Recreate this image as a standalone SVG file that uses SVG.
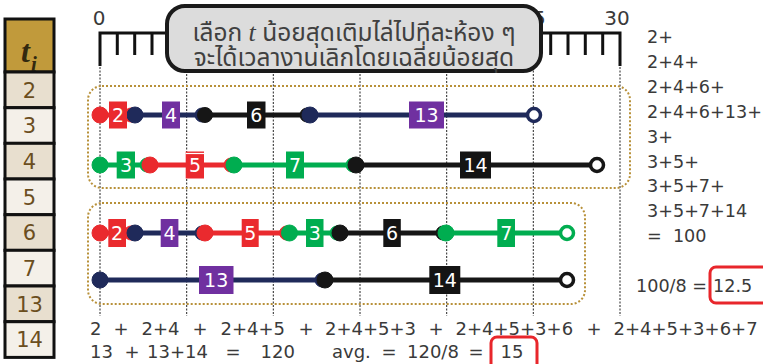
<svg xmlns="http://www.w3.org/2000/svg" width="763" height="364" viewBox="0 0 763 364">
<style>
.num{font-family:"DejaVu Sans",sans-serif;font-size:18px;fill:#3a3a3a}
.rc{font-size:17.6px}
.big{font-size:20px;text-anchor:middle}
.tab{font-family:"DejaVu Sans",sans-serif;font-size:21px;fill:#6b4e1e;text-anchor:middle}
.lab{font-family:"DejaVu Sans",sans-serif;font-size:19px;fill:#ffffff;text-anchor:middle}
.th{font-family:"Noto Sans Thai","Noto Sans","DejaVu Sans",sans-serif;font-size:24.5px;fill:#404040;text-anchor:middle}
.grid{stroke:#222;stroke-width:1;stroke-dasharray:2,1.5;fill:none}
.grp{fill:none;stroke:#b8913a;stroke-width:2;stroke-dasharray:2,2}
.seg{stroke-width:5;fill:none}
.red{stroke:#ea2a2e;fill:#ea2a2e}
.nav{stroke:#1f2a5a;fill:#1f2a5a}
.blk{stroke:#161616;fill:#161616}
.grn{stroke:#00ad50;fill:#00ad50}
.open{fill:#fff;stroke-width:3.5}
.bred{fill:#ea2a2e}.bpur{fill:#7030a0}.bblk{fill:#141414}.bgrn{fill:#00ad50}
.tick{stroke:#111;stroke-width:3;fill:none}
.hl{fill:none;stroke:#e8262b;stroke-width:3}
.cell{stroke:#111;stroke-width:3}
.c1{fill:#e8dfcf}.c2{fill:#f4f0e9}
</style>
<rect width="763" height="364" fill="#ffffff"/>
<g id="table">
<rect x="5" y="19" width="49" height="53" fill="#c19a3b" class="cell"/>
<text x="21" y="62" font-family="Liberation Serif,serif" font-weight="bold" font-style="italic" font-size="32" fill="#33290f">t</text>
<text x="31" y="71" font-family="Liberation Serif,serif" font-weight="bold" font-style="italic" font-size="21" fill="#33290f">i</text>
<rect x="5" y="72" width="49" height="35.7" class="cell c1"/>
<rect x="5" y="107.7" width="49" height="35.7" class="cell c2"/>
<rect x="5" y="143.3" width="49" height="35.7" class="cell c1"/>
<rect x="5" y="179" width="49" height="35.7" class="cell c2"/>
<rect x="5" y="214.7" width="49" height="35.7" class="cell c1"/>
<rect x="5" y="250.3" width="49" height="35.7" class="cell c2"/>
<rect x="5" y="286" width="49" height="35.7" class="cell c1"/>
<rect x="5" y="321.7" width="49" height="35.7" class="cell c2"/>
<text class="tab" x="29.5" y="97.5">2</text>
<text class="tab" x="29.5" y="133.2">3</text>
<text class="tab" x="29.5" y="168.9">4</text>
<text class="tab" x="29.5" y="204.5">5</text>
<text class="tab" x="29.5" y="240.2">6</text>
<text class="tab" x="29.5" y="275.9">7</text>
<text class="tab" x="29.5" y="311.5">13</text>
<text class="tab" x="29.5" y="347.2">14</text>
</g>
<g id="grid">
<line class="grid" x1="100" y1="67" x2="100" y2="316"/>
<line class="grid" x1="186.7" y1="67" x2="186.7" y2="316"/>
<line class="grid" x1="273.3" y1="67" x2="273.3" y2="316"/>
<line class="grid" x1="360" y1="67" x2="360" y2="316"/>
<line class="grid" x1="446.7" y1="67" x2="446.7" y2="316"/>
<line class="grid" x1="533.3" y1="67" x2="533.3" y2="316"/>
<line class="grid" x1="620" y1="67" x2="620" y2="316"/>
</g>
<g id="ruler">
<path class="tick" d="M100,66 V33 H620 V66"/>
<path class="tick" d="M117.3,33V55 M134.7,33V55 M152,33V55 M169.3,33V55 M186.7,33V66 M550.7,33V55 M568,33V55 M585.3,33V55 M602.7,33V55"/>
<text class="num big" x="99" y="25">0</text>
<text class="num big" x="533" y="25">25</text>
<text class="num big" x="617" y="25">30</text>
</g>
<g id="title">
<rect x="167" y="6" width="374" height="65" rx="18" fill="#dcdcdc" stroke="#1a1a1a" stroke-width="4"/>
<text class="th" x="354" y="41">เลือก <tspan font-family="Liberation Serif,serif" font-style="italic" font-size="26">t</tspan> น้อยสุดเติมไล่ไปทีละห้อง ๆ</text>
<text class="th" x="354" y="66">จะได้เวลางานเลิกโดยเฉลี่ยน้อยสุด</text>
</g>
<g id="group-top"><rect class="grp" x="88" y="86" width="542" height="102" rx="14"/></g>
<g id="group-bottom"><rect class="grp" x="88" y="203" width="497" height="101" rx="14"/></g>
<g id="connectors">
<line class="seg red" x1="100" y1="115" x2="131" y2="115"/>
<line class="seg nav" x1="135" y1="115" x2="205" y2="115"/>
<line class="seg blk" x1="205" y1="115" x2="310" y2="115"/>
<line class="seg nav" x1="310" y1="115" x2="534" y2="115"/>
<circle class="red" cx="100" cy="115" r="8"/>
<circle class="red" cx="131" cy="115" r="7"/>
<circle class="nav" cx="135" cy="115" r="8"/>
<circle class="nav" cx="202" cy="115" r="7"/>
<circle class="blk" cx="205" cy="115" r="7.5"/>
<circle class="blk" cx="307" cy="115" r="7"/>
<circle class="nav" cx="310" cy="115" r="8"/>
<circle class="nav open" cx="534" cy="115" r="6.5"/>
<line class="seg grn" x1="100" y1="165" x2="146" y2="165"/>
<line class="seg red" x1="150" y1="165" x2="234" y2="165"/>
<line class="seg grn" x1="234" y1="165" x2="356" y2="165"/>
<line class="seg blk" x1="356" y1="165" x2="597" y2="165"/>
<circle class="grn" cx="100" cy="165" r="8"/>
<circle class="grn" cx="147" cy="165" r="7"/>
<circle class="red" cx="150" cy="165" r="8"/>
<circle class="red" cx="231" cy="165" r="7"/>
<circle class="grn" cx="234" cy="165" r="8"/>
<circle class="grn" cx="353" cy="165" r="7"/>
<circle class="blk" cx="356" cy="165" r="8"/>
<circle class="blk open" cx="597" cy="165" r="6.5"/>
<line class="seg red" x1="100" y1="233" x2="131" y2="233"/>
<line class="seg nav" x1="135" y1="233" x2="205" y2="233"/>
<line class="seg red" x1="205" y1="233" x2="289.5" y2="233"/>
<line class="seg grn" x1="289.5" y1="233" x2="340" y2="233"/>
<line class="seg blk" x1="340" y1="233" x2="446" y2="233"/>
<line class="seg grn" x1="446" y1="233" x2="567" y2="233"/>
<circle class="red" cx="100" cy="233" r="8"/>
<circle class="red" cx="131" cy="233" r="7"/>
<circle class="nav" cx="135" cy="233" r="8"/>
<circle class="nav" cx="202" cy="233" r="7"/>
<circle class="red" cx="205" cy="233" r="8"/>
<circle class="red" cx="286.5" cy="233" r="7"/>
<circle class="grn" cx="289.5" cy="233" r="8"/>
<circle class="grn" cx="337" cy="233" r="7"/>
<circle class="blk" cx="340" cy="233" r="8"/>
<circle class="blk" cx="443" cy="233" r="7"/>
<circle class="grn" cx="446" cy="233" r="8"/>
<circle class="grn open" cx="567" cy="233" r="6.5"/>
<line class="seg nav" x1="100" y1="280" x2="325" y2="280"/>
<line class="seg blk" x1="325" y1="280" x2="567" y2="280"/>
<circle class="nav" cx="100" cy="280" r="8"/>
<circle class="nav" cx="322" cy="280" r="7"/>
<circle class="blk" cx="325" cy="280" r="8"/>
<circle class="blk open" cx="567" cy="280" r="6.5"/>
</g>
<g id="labels">
<rect class="bred" x="109" y="101.5" width="18" height="27"/><text class="lab" x="118" y="122">2</text>
<rect class="bpur" x="162" y="101.5" width="18" height="27"/><text class="lab" x="171" y="122">4</text>
<rect class="bblk" x="247" y="101.5" width="18.5" height="27"/><text class="lab" x="256.3" y="122">6</text>
<rect class="bpur" x="409" y="101.5" width="35" height="27"/><text class="lab" x="426.5" y="122">13</text>
<rect class="bgrn" x="116.7" y="151.5" width="18.3" height="27"/><text class="lab" x="126" y="172">3</text>
<rect class="bred" x="185.7" y="151.5" width="18.3" height="27"/><line x1="185.7" y1="153.5" x2="204" y2="153.5" stroke="#fff" stroke-width="1.2"/><text class="lab" x="195" y="172">5</text>
<rect class="bgrn" x="286" y="151.5" width="18" height="27"/><text class="lab" x="295" y="172">7</text>
<rect class="bblk" x="460" y="151.5" width="31" height="27"/><text class="lab" x="475.5" y="172">14</text>
<rect class="bred" x="108.3" y="219" width="17.7" height="28"/><text class="lab" x="117" y="240">2</text>
<rect class="bpur" x="160.7" y="219" width="17.7" height="28"/><text class="lab" x="169.5" y="240">4</text>
<rect class="bred" x="241.7" y="219" width="17" height="28"/><text class="lab" x="250.2" y="240">5</text>
<rect class="bgrn" x="306" y="219" width="17.5" height="28"/><text class="lab" x="314.8" y="240">3</text>
<rect class="bblk" x="383.3" y="219" width="17.5" height="28"/><text class="lab" x="392" y="240">6</text>
<rect class="bgrn" x="497.3" y="219" width="17.7" height="28"/><text class="lab" x="506.2" y="240">7</text>
<rect class="bpur" x="199" y="266" width="34.5" height="28"/><text class="lab" x="216.2" y="287">13</text>
<rect class="bblk" x="429.3" y="266" width="31" height="28"/><text class="lab" x="444.8" y="287">14</text>
</g>
<g id="sums">
<text class="num rc" x="647" y="43">2+</text>
<text class="num rc" x="647" y="68">2+4+</text>
<text class="num rc" x="647" y="93">2+4+6+</text>
<text class="num rc" x="647" y="118">2+4+6+13+</text>
<text class="num rc" x="647" y="143">3+</text>
<text class="num rc" x="647" y="168">3+5+</text>
<text class="num rc" x="647" y="192">3+5+7+</text>
<text class="num rc" x="647" y="217">3+5+7+14</text>
<text class="num rc" x="647" y="242" xml:space="preserve">=  100</text>
<text class="num rc" x="636" y="292">100/8 =</text>
<rect class="hl" x="710" y="267" width="62" height="36" rx="6"/>
<text class="num rc" x="713" y="292">12.5</text>
<text class="num" y="335"><tspan x="90">2</tspan><tspan x="113.5">+</tspan><tspan x="141.5">2+4</tspan><tspan x="192.5">+</tspan><tspan x="220.5">2+4+5</tspan><tspan x="298.5">+</tspan><tspan x="325">2+4+5+3</tspan><tspan x="428.5">+</tspan><tspan x="455.5">2+4+5+3+6</tspan><tspan x="586.5">+</tspan><tspan x="613.5">2+4+5+3+6+7</tspan></text>
<text class="num" y="358"><tspan x="90">13</tspan><tspan x="124.5">+</tspan><tspan x="147">13+14</tspan><tspan x="225.5">=</tspan><tspan x="260.5">120</tspan><tspan x="332">avg.</tspan><tspan x="381.5">=</tspan><tspan x="407">120/8</tspan><tspan x="468.5">=</tspan></text>
<rect class="hl" x="491" y="337" width="46" height="36" rx="6"/>
<text class="num" x="500.5" y="358">15</text>
</g>
</svg>
